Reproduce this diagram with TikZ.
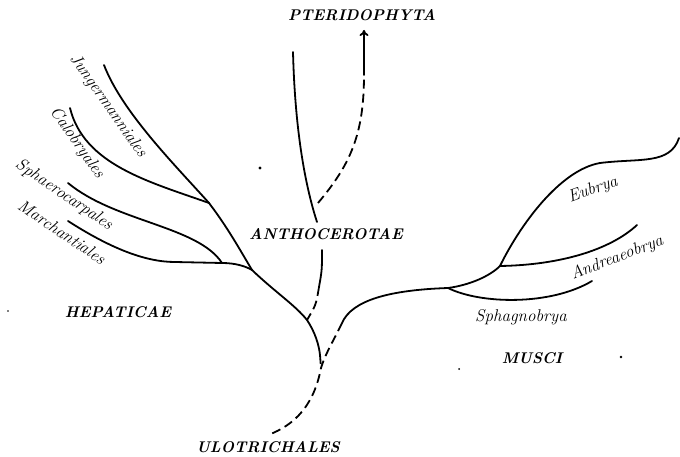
\documentclass[tikz,border=0pt]{standalone}
\usetikzlibrary{arrows.meta}
\begin{document}
\begin{tikzpicture}[x=1pt,y=-1pt,
  br/.style={line width=1.8pt,line cap=round},
  dsh/.style={line width=1.8pt,dash pattern=on 9pt off 5pt},
  capl/.style={font=\fontsize{15.5}{18}\selectfont\bfseries\itshape,inner sep=0pt},
  sml/.style={font=\fontsize{17}{20}\selectfont\itshape,inner sep=0pt},
  speck/.style={fill=black,draw=none}]
\useasboundingbox (0,0) rectangle (680,457);
% junctions and tips
\coordinate (J1) at (252,270);
\coordinate (J2) at (209,203);
\coordinate (J3) at (222,263);
\coordinate (tJ) at (104,65);
\coordinate (tC) at (70,108);
\coordinate (tS) at (68,183);
\coordinate (tM) at (68,221);
\coordinate (mH) at (175,262);
\coordinate (A) at (307,320);
\coordinate (hend) at (320,355);
\coordinate (base) at (321,368);
\coordinate (U) at (268,435);
\coordinate (Mus) at (342,323);
\coordinate (S1) at (448,288);
\coordinate (S2) at (500,266);
\coordinate (mE) at (600,163);
\coordinate (tEu) at (679,138);
\coordinate (tAn) at (637,225);
\coordinate (tSph) at (592,281);
\coordinate (aT) at (293,52);
\coordinate (aB) at (317,222);
\coordinate (aL) at (322,250);
\coordinate (aM) at (319,287);
\coordinate (pS) at (318,203);
\coordinate (pM) at (364,75);
\coordinate (pE) at (364,30);
% hepaticae
\draw[br] (tJ) .. controls (122,112) and (175,165) .. (J2) .. controls (228,228) and (240,250) .. (J1);
\draw[br] (tC) .. controls (84,165) and (150,182) .. (J2);
\draw[br] (tS) .. controls (115,222) and (198,226) .. (J3);
\draw[br] (tM) .. controls (110,248) and (145,262) .. (mH) -- (J3) .. controls (235,263) and (245,266) .. (J1);
% trunk
\draw[br] (J1) .. controls (275,292) and (295,305) .. (A) .. controls (315,332) and (319,345) .. (hend);
\draw[dsh] (hend) -- (base);
\draw[dsh] (Mus) .. controls (334,340) and (326,352) .. (base) .. controls (314,405) and (295,425) .. (U);
% anthocerotae
\draw[br] (aT) .. controls (295,130) and (305,185) .. (aB);
\draw[br] (aL) .. controls (322,270) .. (aM);
\draw[dsh] (aM) .. controls (316,305) .. (A);
\draw[dsh] (pS) .. controls (350,165) and (364,135) .. (pM);
\draw[br,-{To[length=6pt,width=9pt]}] (pM) -- (pE);
% musci
\draw[br] (Mus) .. controls (352,300) and (390,290) .. (S1) .. controls (470,285) and (490,276) .. (S2);
\draw[br] (S2) .. controls (520,225) and (560,170) .. (mE) .. controls (640,158) and (670,165) .. (tEu);
\draw[br] (S2) .. controls (560,265) and (610,250) .. (tAn);
\draw[br] (S1) .. controls (480,304) and (550,306) .. (tSph);
% labels
\node[capl] (pter) at (362,15) {PTERIDOPHYTA};
\node[capl] (anth) at (326,234) {ANTHOCEROTAE};
\node[capl] (hepa) at (118,312) {HEPATICAE};
\node[capl] (musc) at (532,358) {MUSCI};
\node[capl] (ulot) at (268,447) {ULOTRICHALES};
\node[sml,rotate=-55] (jung) at (108,106) {Jungermanniales};
\node[sml,rotate=-55] (calo) at (77,143) {Calobryales};
\node[sml,rotate=-34] (spha) at (64,195) {Sphaerocarpales};
\node[sml,rotate=-34] (marc) at (62,232) {Marchantiales};
\node[sml,rotate=20] (eubr) at (593,190) {Eubrya};
\node[sml,rotate=21] (andr) at (617,258) {Andreaeobrya};
\node[sml] (spgn) at (521,317) {Sphagnobrya};
% specks
\fill[speck] (260,168) circle (1.6pt);
\fill[speck] (621,357) circle (1.3pt);
\fill[speck] (459,369) circle (1pt);
\fill[speck] (8,311) circle (0.8pt);
\end{tikzpicture}
\end{document}
